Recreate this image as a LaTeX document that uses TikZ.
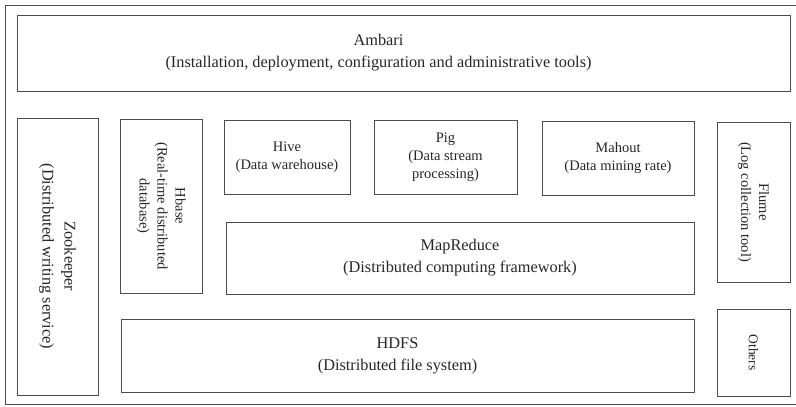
\documentclass[tikz,border=0pt]{standalone}
\usepackage{fontspec}
\setmainfont{Liberation Serif}
\usepackage{tikz}
\usetikzlibrary{positioning}

\begin{document}
\begin{tikzpicture}[x=1pt,y=1pt,yscale=-1,xscale=1]
  \useasboundingbox (0,0) rectangle (796,407);
  \tikzstyle{layer} = [draw=gray!60!black,line width=0.9pt,rectangle,inner sep=0pt,align=center,text=black!85]
  \tikzstyle{label} = [inner sep=0pt,align=center,text=black!85]
  \tikzstyle{bigtext} = [font=\fontsize{16.3}{22}\selectfont]
  \tikzstyle{smalltext} = [font=\fontsize{14.5}{18}\selectfont]
  %Draw the outer frame
  \draw [draw=gray!60!black,line width=0.9pt] (800,5) -- (5,5) -- (5,404) -- (800,404);
  %Top layer
  \node [layer,minimum width=773,minimum height=76] (ambari) at (403.5,53) {};
  \node [label,bigtext] (ambaritext) at ([xshift=-25]ambari.center)
    {Ambari\\(Installation, deployment, configuration and administrative tools)};
  %Side columns
  \node [layer,bigtext,rotate=-90,minimum width=277,minimum height=81] (zookeeper) at (57.5,256.5)
    {Zookeeper\\(Distributed writing service)};
  \node [layer,smalltext,rotate=-90,minimum width=174,minimum height=82] (hbase) at (161,206)
    {Hbase\\(Real-time distributed\\database)};
  \node [layer,smalltext,rotate=-90,minimum width=160,minimum height=73] (flume) at (753.5,202)
    {Flume\\(Log collection tool)};
  \node [layer,rotate=-90,minimum width=87,minimum height=73,font=\fontsize{13.5}{16}\selectfont] (others) at (753.5,352.5)
    {Others};
  %Tools on top of MapReduce
  \node [layer,smalltext,minimum width=126,minimum height=74] (hive) at (287,157)
    {Hive\\(Data warehouse)};
  \node [layer,smalltext,minimum width=143,minimum height=74] (pig) at (445.5,157)
    {Pig\\(Data stream\\processing)};
  \node [layer,smalltext,minimum width=152,minimum height=74] (mahout) at (618,158)
    {Mahout\\(Data mining rate)};
  %Computing and storage
  \node [layer,bigtext,minimum width=468,minimum height=72] (mapreduce) at (460,258)
    {MapReduce\\(Distributed computing framework)};
  \node [layer,minimum width=573,minimum height=73] (hdfs) at (407.5,355.5) {};
  \node [label,bigtext] (hdfstext) at ([xshift=-10]hdfs.center)
    {HDFS\\(Distributed file system)};
\end{tikzpicture}
\end{document}
